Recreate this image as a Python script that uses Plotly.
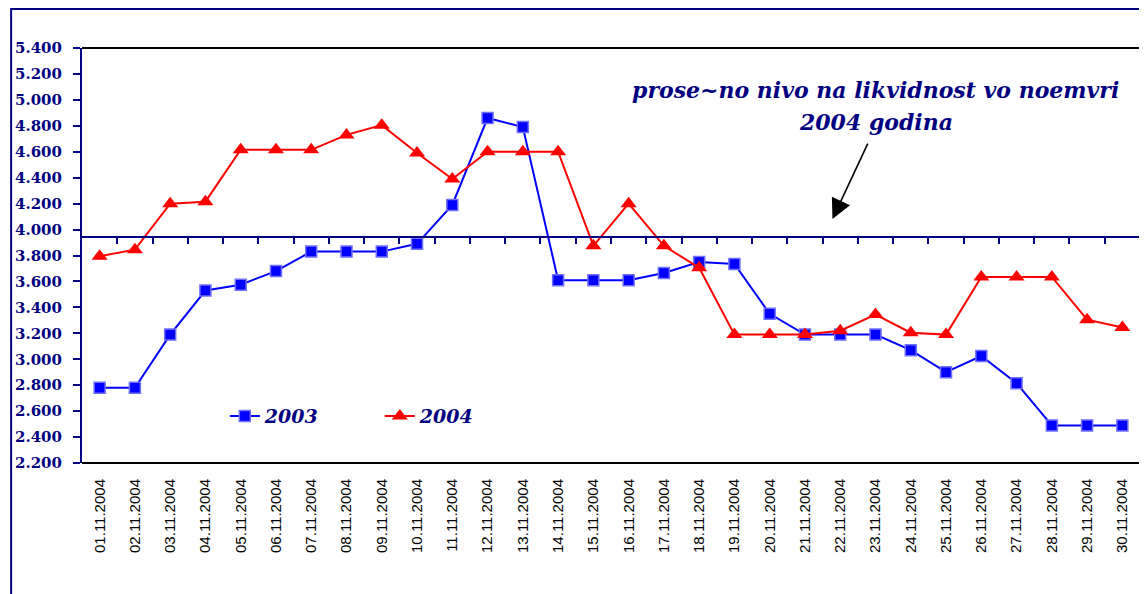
import plotly.graph_objects as go

# dnevi vo noemvri 2004
datumi = ['%02d.11.2004' % d for d in range(1, 31)]

# likvidnost (iznosi procitani od grafikot)
vrednosti_2003 = [2780, 2780, 3190, 3530, 3575, 3680, 3830, 3830, 3830, 3890,
                  4190, 4860, 4790, 3610, 3610, 3610, 3665, 3750, 3735, 3350,
                  3190, 3190, 3190, 3070, 2900, 3025, 2815, 2490, 2490, 2490]
vrednosti_2004 = [3795, 3845, 4200, 4215, 4615, 4615, 4615, 4730, 4805, 4590,
                  4390, 4600, 4600, 4600, 3875, 4200, 3875, 3705, 3190, 3190,
                  3190, 3220, 3345, 3205, 3190, 3635, 3635, 3635, 3305, 3245]
prosek_2004 = 3940

y_min, y_max = 2200, 5400
NAVY = '#000080'

fig = go.Figure()
fig.add_trace(go.Scatter(x=datumi, y=vrednosti_2003, name='2003', mode='lines+markers',
                         line=dict(color='#0000ff', width=2),
                         marker=dict(symbol='square', size=11, color='#0000ff',
                                     line=dict(color='#7070ff', width=1.5))))
fig.add_trace(go.Scatter(x=datumi, y=vrednosti_2004, name='2004', mode='lines+markers',
                         line=dict(color='#ff0000', width=2),
                         marker=dict(symbol='triangle-up', size=14, color='#ff0000')))
# prazna traga za da se iscrta linijata na prosekot (xaxis2)
fig.add_trace(go.Scatter(x=[0], y=[prosek_2004], xaxis='x2', mode='markers',
                         marker=dict(opacity=0), showlegend=False, hoverinfo='skip'))

# rabovi (stranata ima 8px margina vo browserot)
fig.add_shape(type='path', xref='paper', yref='paper', path='M 0,0 H 1 V 1 H 0',
              line=dict(color='black', width=2), layer='below')
fig.add_shape(type='rect', xref='paper', yref='paper', x0=-0.0670, x1=1.05, y0=-0.4, y1=1.094,
              line=dict(color=NAVY, width=2), layer='below')

fig.add_annotation(x=22.0, y=5076, xref='x', yref='y', showarrow=False,
                   text='prose~no nivo na likvidnost vo noemvri',
                   font=dict(family='DejaVu Serif', size=22, color=NAVY, weight='bold', style='italic'))
fig.add_annotation(x=22.0, y=4829, xref='x', yref='y', showarrow=False,
                   text='2004 godina',
                   font=dict(family='DejaVu Serif', size=22, color=NAVY, weight='bold', style='italic'))
fig.add_annotation(x=20.78, y=4081, xref='x', yref='y', text='', showarrow=True,
                   ax=36, ay=-77, arrowhead=2, arrowsize=2.5, arrowwidth=1.6, arrowcolor='black')

fig.update_layout(
    width=1139, height=586,
    margin=dict(l=72, r=7, t=40, b=131),
    paper_bgcolor='white', plot_bgcolor='white',
    separators=',.',
    showlegend=True,
    legend=dict(orientation='h', x=0.135, y=0.113, xanchor='left', yanchor='middle',
                bgcolor='rgba(0,0,0,0)', entrywidth=110, entrywidthmode='pixels',
                font=dict(family='DejaVu Serif', size=19, color=NAVY, weight='bold', style='italic')),
    xaxis=dict(type='category', categoryarray=datumi, range=[-0.5, len(datumi) - 0.5],
               showgrid=False, showline=False, ticks='', tickangle=-90,
               ticklabelstandoff=12,
               tickfont=dict(family='Liberation Sans', size=15, color='black')),
    xaxis2=dict(overlaying='x', anchor='free', position=(prosek_2004 - y_min) / (y_max - y_min),
                type='linear', range=[-0.5, len(datumi) - 0.5], showgrid=False, showline=True,
                linecolor=NAVY, linewidth=2, ticks='outside', ticklen=6, tickwidth=1.5,
                tickcolor=NAVY, tickvals=[i + 0.5 for i in range(len(datumi) - 1)],
                showticklabels=False, zeroline=False),
    yaxis=dict(range=[y_min, y_max], tickvals=list(range(y_min, y_max + 1, 200)),
               tickformat=',d', showgrid=False, zeroline=False,
               showline=True, linecolor=NAVY, linewidth=2,
               ticks='outside', ticklen=7, tickwidth=1.5, tickcolor=NAVY,
               ticklabelstandoff=8,
               tickfont=dict(family='DejaVu Serif', size=15, color=NAVY, weight='bold')),
)

fig.write_html("out.html")
